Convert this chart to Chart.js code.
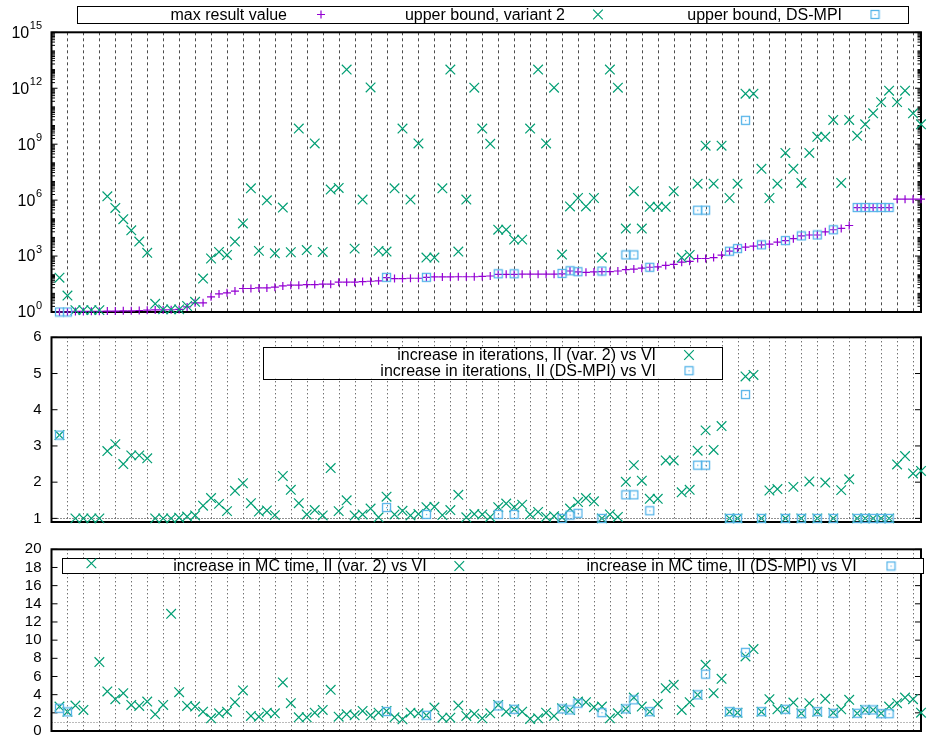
<!DOCTYPE html>
<html>
<head>
<meta charset="utf-8">
<script src="https://cdn.jsdelivr.net/npm/chart.js@4/dist/chart.umd.min.js"></script>
<style>
  html, body { margin: 0; padding: 0; background: #fff; }
  #wrap { position: relative; width: 929px; height: 739px; }
  #wrap canvas { position: absolute; left: 0; }
</style>
</head>
<body>
<div id="wrap">
  <canvas id="boundsChart" width="929" height="320" style="top:0"></canvas>
  <canvas id="iterChart" width="929" height="210" style="top:320px"></canvas>
  <canvas id="timeChart" width="929" height="209" style="top:530px"></canvas>
</div>
<script>
// benchmark cases 1..109, one column each
const caseIds = Array.from({ length: 109 }, (_, k) => k + 1);

const maxResult = [
  1, 1, 1.07, 1.07, 1.1, 1.1, 1.12, 1.12, 1.15, 1.15,
  1.2, 1.26, 1.29, 1.29, 1.32, 1.38, 1.86, 3.1, 3.1, 6.5,
  9.3, 10.7, 13.2, 18.2, 18.2, 19.5, 19.5, 21.4, 25.1, 27.5,
  27.5, 29.5, 29.5, 30.9, 30.9, 39.8, 39.8, 39.8, 42.7, 44.7,
  46.8, 69, 61.7, 61.7, 64.6, 64.6, 72.4, 75.9, 75.9, 75.9,
  77.6, 77.6, 77.6, 81.3, 85.1, 104.7, 104.7, 104.7, 107, 107,
  107, 107, 107, 112, 158, 141, 135, 141, 148, 148,
  158, 186, 200, 224, 251, 263, 316, 355, 468, 525,
  741, 741, 832, 1122, 1820, 2512, 3020, 3388, 3981, 4365,
  5623, 6761, 8511, 12023, 13490, 13490, 19953, 25704, 30200, 43652,
  398107, 398107, 398107, 398107, 398107, 1122018, 1122018, 1122018, 1122018
];

const upperVar2 = [
  69, 7.6, 1.26, 1.26, 1.26, 1.26, 1.6e6, 3.8e5, 9.5e4, 2.4e4,
  6.0e3, 1.5e3, 2.75, 1.38, 1.38, 1.38, 2.1, 3.5, 62, 740,
  1660, 1150, 6000, 5.6e4, 4.3e6, 1900, 9.8e5, 1400, 4.0e5, 1600,
  6.9e9, 2100, 1.1e9, 1660, 3.7e6, 4.5e6, 1.0e13, 2500, 1.07e6, 1.1e12,
  1900, 1750, 4.3e6, 6.9e9, 1.07e6, 1.1e9, 830, 830, 4.3e6, 1.0e13,
  1750, 1.07e6, 1.07e12, 6.9e9, 1.05e9, 2.6e4, 2.6e4, 7600, 7600, 6.9e9,
  1.0e13, 1.1e9, 1.07e12, 1200, 4.6e5, 1.3e6, 4.6e5, 1.3e6, 830, 1.0e13,
  1.07e12, 3.0e4, 3.0e6, 3.0e4, 4.4e5, 4.4e5, 4.4e5, 3.0e6, 830, 1150,
  7.6e6, 8.3e8, 7.6e6, 8.3e8, 1.3e6, 7.6e6, 5.1e11, 5.1e11, 4.8e7, 1.3e6,
  7.6e6, 3.4e8, 4.8e7, 8.3e6, 3.4e8, 2.5e9, 2.5e9, 2.0e10, 8.3e6, 2.0e10,
  2.8e9, 1.17e10, 4.5e10, 1.8e11, 7.4e11, 1.8e11, 7.4e11, 4.5e10, 1.17e10
];

const iterVar2 = [
  3.30, null, 1.0, 1.0, 1.0, 1.0, 2.86, 3.05, 2.50, 2.74,
  2.74, 2.66, 1.0, 1.0, 1.0, 1.02, 1.05, 1.08, 1.35, 1.56,
  1.40, 1.20, 1.76, 1.97, 1.42, 1.19, 1.22, 1.09, 2.17, 1.79,
  1.42, 1.11, 1.23, 1.08, 2.39, 1.20, 1.50, 1.08, 1.11, 1.27,
  1.03, 1.60, 1.11, 1.21, 1.08, 1.12, 1.31, 1.32, 1.09, 1.23,
  1.65, 1.03, 1.12, 1.11, 1.04, 1.31, 1.41, 1.31, 1.38, 1.11,
  1.18, 1.04, 1.06, 1.03, 1.27, 1.45, 1.56, 1.47, 1.0, 1.11,
  1.04, 2.01, 2.47, 2.04, 1.54, 1.54, 2.60, 2.60, 1.72, 1.79,
  2.87, 3.43, 2.89, 3.55, 1.0, 1.0, 4.92, 4.96, 1.0, 1.77,
  1.81, 1.0, 1.87, 1.0, 2.02, 1.0, 1.99, 1.0, 1.78, 2.08,
  1.0, 1.0, 1.0, 1.0, 1.0, 2.49, 2.72, 2.24, 2.31
];

const timeVar2 = [
  2.69, 2.13, 2.8, 2.32, 18.45, 7.59, 4.35, 3.5, 4.16, 2.87,
  2.76, 3.24, 1.84, 2.87, 12.9, 4.27, 2.76, 2.69, 2.13, 1.40,
  1.95, 2.13, 3.17, 4.46, 1.66, 1.58, 2.02, 1.95, 5.34, 3.06,
  1.51, 1.51, 2.02, 2.32, 4.53, 1.58, 1.84, 1.73, 2.21, 1.73,
  2.02, 2.21, 1.51, 1.29, 2.02, 1.95, 1.73, 2.58, 1.47, 1.47,
  2.8, 1.66, 1.88, 1.40, 1.95, 2.87, 2.13, 2.39, 2.13, 1.33,
  1.40, 2.02, 1.66, 2.5, 2.32, 3.24, 3.17, 2.62, 2.69, 1.40,
  1.95, 2.43, 3.68, 2.69, 2.13, 2.98, 4.71, 5.08, 2.32, 3.17,
  3.98, 7.29, 4.16, 5.75, 2.13, 2.02, 8.21, 9.02, 2.13, 3.5,
  2.39, 2.39, 3.13, 1.95, 3.06, 2.13, 3.54, 2.02, 2.39, 3.43,
  1.95, 2.32, 2.32, 1.95, 2.69, 3.06, 3.68, 3.5, 2.02
];

// DS-MPI only has results for some of the cases
const dsIds = [1, 2, 42, 47, 56, 58, 64, 65, 66, 69, 72, 73, 75, 81, 82, 85, 86, 87, 89, 92, 94, 96, 98, 101, 102, 103, 104, 105];
const dsUpper = [1, 1, 72, 72, 112, 112, 117, 162, 145, 158, 1150, 1150, 251, 2.9e5, 2.9e5, 1820, 2512, 1.9e10, 3981, 6761, 12023, 13490, 25704, 4.0e5, 4.0e5, 4.0e5, 4.0e5, 4.0e5];
const dsIter = [3.30, null, 1.30, 1.11, 1.11, 1.11, 1.0, 1.09, 1.14, 1.0, 1.65, 1.65, 1.21, 2.47, 2.47, 1.0, 1.0, 4.42, 1.0, 1.0, 1.0, 1.0, 1.0, 1.0, 1.0, 1.0, 1.0, 1.0];
const dsTime = [2.5, 2.1, 2.14, 1.73, 2.76, 2.39, 2.43, 2.32, 3.06, 2.02, 2.43, 3.43, 2.13, 3.98, 6.26, 2.13, 2.02, 8.66, 2.13, 2.39, 1.9, 2.13, 1.95, 1.95, 2.32, 2.32, 1.9, 1.9];

// tick labels
const boundExponents = [0, 3, 6, 9, 12, 15];
const iterTicks = [1, 2, 3, 4, 5, 6];
const timeTicks = [0, 2, 4, 6, 8, 10, 12, 14, 16, 18, 20];

const FONT = '"Liberation Sans", Arial, sans-serif';
const PURPLE = '#9400d3', GREEN = '#009e73', BLUE = '#56b4e9';
const gridStep = 2;

// gnuplot style "boxed dot" marker
function boxDot(color) {
    const c = document.createElement('canvas');
    c.width = 11; c.height = 11;
    const g = c.getContext('2d');
    g.strokeStyle = color;
    g.lineWidth = 1.3;
    g.strokeRect(1.5, 1.5, 8, 8);
    g.fillStyle = color;
    g.fillRect(5, 5, 1.2, 1.2);
    return c;
}
const BOX = boxDot(BLUE);

const marks = {
    plus: { style: 'cross', r: 4, color: PURPLE },
    cross: { style: 'crossRot', r: 6.8, color: GREEN },
    box: { style: BOX, r: 5, color: BLUE }
};

function series(ids, vals, kind, order) {
    const m = marks[kind];
    return {
        data: ids.map((c, k) => ({ x: c, y: vals[k] })),
        pointStyle: m.style,
        pointRadius: m.r,
        pointBorderWidth: 1.2,
        borderColor: m.color,
        backgroundColor: 'transparent',
        showLine: false,
        clip: false,
        order: order
    };
}

function drawSym(ctx, kind, x, y) {
    ctx.save();
    ctx.setLineDash([]);
    ctx.lineWidth = 1.2;
    if (kind === 'plus') {
        ctx.strokeStyle = PURPLE;
        ctx.beginPath();
        ctx.moveTo(x - 4, y); ctx.lineTo(x + 4, y);
        ctx.moveTo(x, y - 4); ctx.lineTo(x, y + 4);
        ctx.stroke();
    } else if (kind === 'cross') {
        const d = 4.8;
        ctx.strokeStyle = GREEN;
        ctx.beginPath();
        ctx.moveTo(x - d, y - d); ctx.lineTo(x + d, y + d);
        ctx.moveTo(x + d, y - d); ctx.lineTo(x - d, y + d);
        ctx.stroke();
    } else {
        ctx.drawImage(BOX, x - 5.5, y - 5.5);
    }
    ctx.restore();
}

function drawKey(ctx, key) {
    const [x1, y1, x2, y2] = key.box;
    ctx.save();
    ctx.setLineDash([]);
    ctx.fillStyle = '#fff';
    ctx.fillRect(x1, y1, x2 - x1, y2 - y1);
    ctx.strokeStyle = '#000';
    ctx.lineWidth = 1;
    ctx.strokeRect(Math.round(x1) + 0.5, Math.round(y1) + 0.5, Math.round(x2 - x1), Math.round(y2 - y1));
    ctx.fillStyle = '#000';
    ctx.font = '16px ' + FONT;
    ctx.textAlign = 'right';
    ctx.textBaseline = 'middle';
    key.rows.forEach(r => {
        ctx.fillText(r.text, r.tx, r.y + 1);
        drawSym(ctx, r.sym, r.sx, r.y);
    });
    ctx.restore();
}

function tic(ctx, a, py, len) {
    ctx.beginPath();
    ctx.moveTo(a.left, py); ctx.lineTo(a.left + len, py);
    ctx.moveTo(a.right, py); ctx.lineTo(a.right - len, py);
    ctx.stroke();
}

// grid, border, tics and key drawn the way gnuplot does it
function gnuplotLook(look) {
    return {
        id: 'gnuplotLook',
        beforeDatasetsDraw(chart) {
            const ctx = chart.ctx, a = chart.chartArea;
            const xs = chart.scales.x, ys = chart.scales.y;
            ctx.save();
            ctx.strokeStyle = look.gridColor;
            ctx.lineWidth = 1;
            ctx.setLineDash(look.gridDash);
            for (let v = gridStep; v < xs.max; v += gridStep) {
                const px = Math.round(xs.getPixelForValue(v)) + 0.5;
                ctx.beginPath();
                ctx.moveTo(px, a.top); ctx.lineTo(px, a.bottom);
                ctx.stroke();
            }
            if (look.refLine) {
                const py = Math.round(ys.getPixelForValue(1)) + 0.5;
                ctx.strokeStyle = look.refColor;
                ctx.setLineDash([1, 2]);
                ctx.beginPath();
                ctx.moveTo(a.left, py); ctx.lineTo(a.right, py);
                ctx.stroke();
            }
            ctx.setLineDash([]);
            ctx.strokeStyle = '#000';
            ctx.lineWidth = 1;
            ys.ticks.forEach(t => tic(ctx, a, ys.getPixelForValue(t.value), 6));
            (look.minor || []).forEach(v => tic(ctx, a, ys.getPixelForValue(v), 3.5));
            ctx.lineWidth = 2;
            ctx.strokeRect(a.left, a.top, a.right - a.left, a.bottom - a.top);
            drawKey(ctx, look.key);
            ctx.restore();
        },
        afterDraw(chart) {
            if (!look.powers) return;
            const ctx = chart.ctx, ys = chart.scales.y;
            ctx.save();
            ctx.fillStyle = '#000';
            ctx.textBaseline = 'middle';
            look.powers.forEach(e => {
                const py = ys.getPixelForValue(10 ** e);
                ctx.font = '11px ' + FONT;
                const ew = ctx.measureText(String(e)).width;
                ctx.textAlign = 'left';
                ctx.fillText(String(e), 42 - ew, py - 6);
                ctx.font = '16px ' + FONT;
                ctx.textAlign = 'right';
                ctx.fillText('10', 42 - ew - 0.5, py + 1);
            });
            ctx.restore();
        }
    };
}

function fitLeft(s) {
    s.width = 51.5;
    s.paddingTop = 0;
    s.paddingBottom = 0;
}

function linearY(min, max, ticks) {
    return {
        type: 'linear', min: min, max: max,
        afterBuildTicks: s => { s.ticks = ticks.map(v => ({ value: v })); },
        afterFit: fitLeft,
        grid: { display: false, drawTicks: false },
        border: { display: false },
        ticks: { autoSkip: false, padding: 10, color: '#000', font: { family: FONT, size: 15 } }
    };
}

function makePanel(id, datasets, y, padding, look) {
    return new Chart(document.getElementById(id), {
        type: 'scatter',
        data: { datasets: datasets },
        options: {
            responsive: false,
            animation: false,
            events: [],
            layout: { padding: padding },
            plugins: { legend: { display: false }, tooltip: { enabled: false } },
            scales: {
                x: { type: 'linear', display: false, min: 0, max: 109 },
                y: y
            }
        },
        plugins: [gnuplotLook(look)]
    });
}

// minor log tics 2..9 in every decade
const logMinor = [];
for (let k = 0; k < 15; k++) {
    for (let m = 2; m <= 9; m++) logMinor.push(m * 10 ** k);
    if (k % 3) logMinor.push(10 ** k);
}

const boundsChart = makePanel('boundsChart', [
    series(caseIds, maxResult, 'plus', 3),
    series(caseIds, upperVar2, 'cross', 2),
    series(dsIds, dsUpper, 'box', 1)
], {
    type: 'logarithmic', display: false, min: 1, max: 1e15,
    afterBuildTicks: s => { s.ticks = boundExponents.map(e => ({ value: 10 ** e })); }
}, { left: 51.5, right: 2, top: 32.3, bottom: 5.7 }, {
    gridColor: 'rgba(0,0,0,0.7)', gridDash: [3, 3], minor: logMinor, powers: boundExponents,
    key: { box: [77, 6, 908, 23], rows: [
        { text: 'max result value', tx: 287, sx: 321, y: 14.5, sym: 'plus' },
        { text: 'upper bound, variant 2', tx: 565, sx: 598, y: 14.5, sym: 'cross' },
        { text: 'upper bound, DS-MPI', tx: 842, sx: 875, y: 14.5, sym: 'box' }
    ] }
});

const iterChart = makePanel('iterChart', [
    series(caseIds, iterVar2, 'cross', 2),
    series(dsIds, dsIter, 'box', 1)
], linearY(0.9, 6, iterTicks), { left: 0, right: 2, top: 17.3, bottom: 3.3 }, {
    gridColor: 'rgba(0,0,0,0.8)', gridDash: [1, 3], refLine: true, refColor: '#222',
    key: { box: [263, 26.7, 722, 58.3], rows: [
        { text: 'increase in iterations, II (var. 2) vs VI', tx: 656, sx: 689, y: 35, sym: 'cross' },
        { text: 'increase in iterations, II (DS-MPI) vs VI', tx: 656, sx: 689, y: 50.7, sym: 'box' }
    ] }
});

const timeChart = makePanel('timeChart', [
    series(caseIds, timeVar2, 'cross', 2),
    series(dsIds, dsTime, 'box', 1)
], linearY(0, 20, timeTicks), { left: 0, right: 2, top: 19.3, bottom: 8 }, {
    gridColor: 'rgba(0,0,0,0.8)', gridDash: [1, 3], refLine: true, refColor: '#777',
    key: { box: [62, 28.3, 923, 43.3], rows: [
        { text: 'increase in MC time, II (var. 2) vs VI', tx: 426.7, sx: 459.3, y: 36, sym: 'cross' },
        { text: 'increase in MC time, II (DS-MPI) vs VI', tx: 856.7, sx: 891, y: 36, sym: 'box' }
    ] }
});
</script>
</body>
</html>
